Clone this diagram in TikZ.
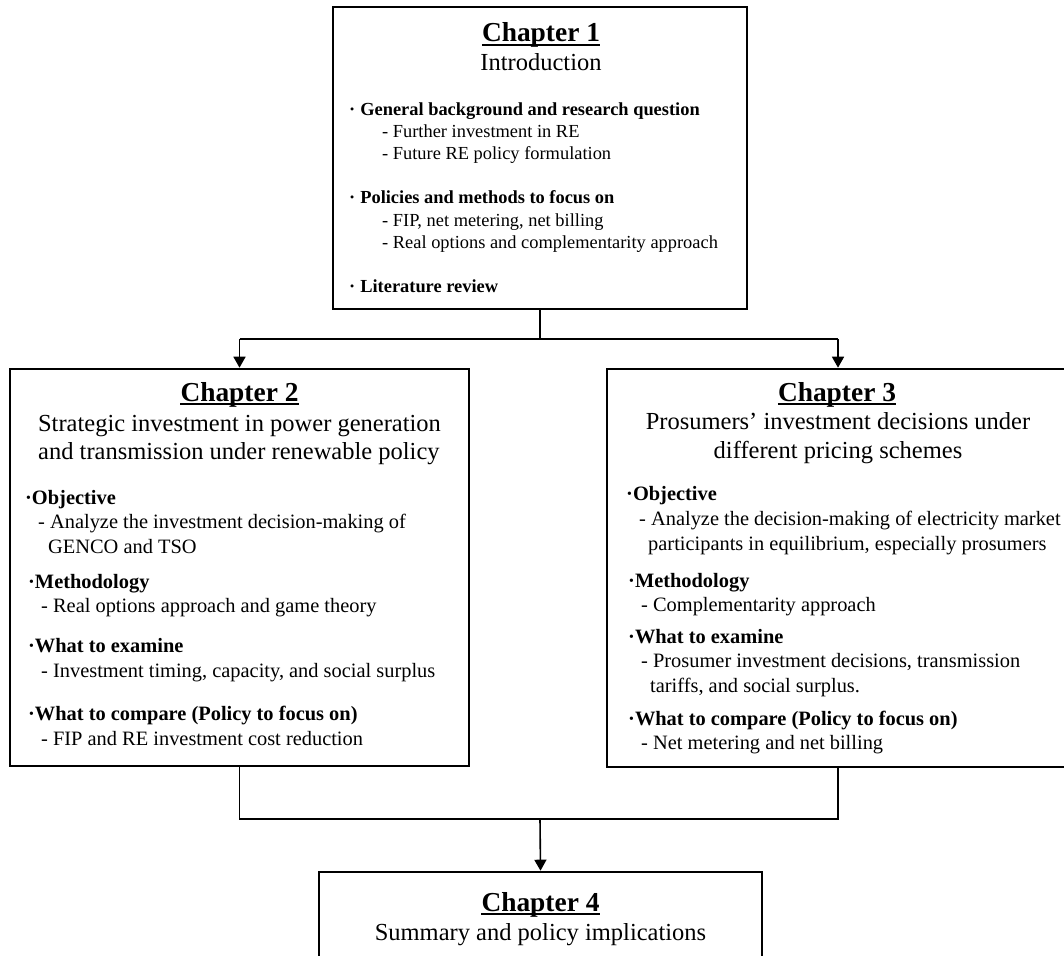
\documentclass[tikz,border=0pt]{standalone}
\usepackage{fontspec}
\setmainfont{Liberation Serif}
\usetikzlibrary{arrows.meta}
\newcommand{\tline}[4]{\node[txt] (#1) at (#2,#3) {#4};}
\newcommand{\ctline}[4]{\node[ctxt] (#1) at (#2,#3) {#4};}
\newcommand{\hd}{\fontsize{27.4}{30}\selectfont\bfseries}
\newcommand{\sub}{\fontsize{24.5}{28}\selectfont}
\newcommand{\bodyA}{\fontsize{18.4}{21}\selectfont}
\newcommand{\bodyB}{\fontsize{20.4}{23}\selectfont}
\newcommand{\uline}[1]{\draw[line width=1.6pt] ([yshift=-3pt]#1.base west) -- ([yshift=-3pt]#1.base east);}
\tikzset{
  box/.style={draw=black, line width=2.6pt, rectangle, inner sep=0pt},
  conn/.style={draw=black, line width=1.6pt},
  arr/.style={conn, -{Triangle[length=11pt,width=12pt]}},
  txt/.style={anchor=base west, inner sep=0pt, text=black},
  ctxt/.style={anchor=base, inner sep=0pt, text=black},
}
\begin{document}
\begin{tikzpicture}[x=1pt,y=-1pt]
\clip (0,0) rectangle (1064,955);
\useasboundingbox (0,0) rectangle (1064,955);
% boxes
\node[box, minimum width=414pt, minimum height=302pt] (c1) at (540,158) {};
\node[box, minimum width=459pt, minimum height=397pt] (c2) at (239.5,567.5) {};
\node[box, minimum width=462pt, minimum height=398pt] (c3) at (838,568) {};
\node[box, minimum width=443pt, minimum height=140pt] (c4) at (540.5,942) {};
% connectors
\coordinate (s1) at (540,339);
\coordinate (l1) at (c2.north |- s1);
\coordinate (r1) at (c3.north |- s1);
\draw[conn] (c1.south) -- (s1);
\draw[conn] (l1) -- (r1);
\draw[arr] (l1) -- (c2.north);
\draw[arr] (r1) -- (c3.north);
\coordinate (m) at (540,819);
\draw[conn] (c2.south) |- (m) -| (c3.south);
\draw[arr] (m) -- (c4.north);
% Chapter 1
\ctline{h1}{541}{42}{\hd Chapter 1}
\uline{h1}
\ctline{t1}{541}{71}{\sub Introduction}
\tline{a1}{349}{115}{\bodyA\bfseries ·\hspace{5pt}General background and research question}
\tline{a2}{382}{137}{\bodyA - Further investment in RE}
\tline{a3}{382}{159}{\bodyA - Future RE policy formulation}
\tline{a4}{349}{203}{\bodyA\bfseries ·\hspace{5pt}Policies and methods to focus on}
\tline{a5}{382}{226}{\bodyA - FIP, net metering, net billing}
\tline{a6}{382}{248}{\bodyA - Real options and complementarity approach}
\tline{a7}{349}{292}{\bodyA\bfseries ·\hspace{5pt}Literature review}
% Chapter 2
\ctline{h2}{239.5}{401}{\hd Chapter 2}
\uline{h2}
\ctline{t2a}{239.5}{431}{\sub Strategic investment in power generation}
\tline{t2b}{38}{459}{\sub and transmission under renewable policy}
\tline{b1}{25}{504}{\bodyB\bfseries ·Objective}
\tline{b2}{38}{528}{\bodyB - Analyze the investment decision-making of}
\tline{b3}{48}{553}{\bodyB GENCO and TSO}
\tline{b4}{28}{588}{\bodyB\bfseries ·Methodology}
\tline{b5}{41}{612}{\bodyB - Real options approach and game theory}
\tline{b6}{28}{652}{\bodyB\bfseries ·What to examine}
\tline{b7}{41}{677}{\bodyB - Investment timing, capacity, and social surplus}
\tline{b8}{28}{720}{\bodyB\bfseries ·What to compare (Policy to focus on)}
\tline{b9}{41}{745}{\bodyB - FIP and RE investment cost reduction}
% Chapter 3
\ctline{h3}{837}{401}{\hd Chapter 3}
\uline{h3}
\ctline{t3a}{838}{429}{\sub Prosumers’ investment decisions under}
\ctline{t3b}{838}{458}{\sub different pricing schemes}
\tline{d1}{626}{500}{\bodyB\bfseries ·Objective}
\tline{d2}{639}{525}{\bodyB - Analyze the decision-making of electricity market}
\tline{d3}{648}{550}{\bodyB participants in equilibrium, especially prosumers}
\tline{d4}{628}{587}{\bodyB\bfseries ·Methodology}
\tline{d5}{641}{611}{\bodyB - Complementarity approach}
\tline{d6}{628}{643}{\bodyB\bfseries ·What to examine}
\tline{d7}{641}{667}{\bodyB - Prosumer investment decisions, transmission}
\tline{d8}{650}{692}{\bodyB tariffs, and social surplus.}
\tline{d9}{628}{725}{\bodyB\bfseries ·What to compare (Policy to focus on)}
\tline{d10}{641}{749}{\bodyB - Net metering and net billing}
% Chapter 4
\ctline{h4}{540.5}{911}{\hd Chapter 4}
\uline{h4}
\ctline{t4}{540.5}{940}{\sub Summary and policy implications}
\end{tikzpicture}
\end{document}
